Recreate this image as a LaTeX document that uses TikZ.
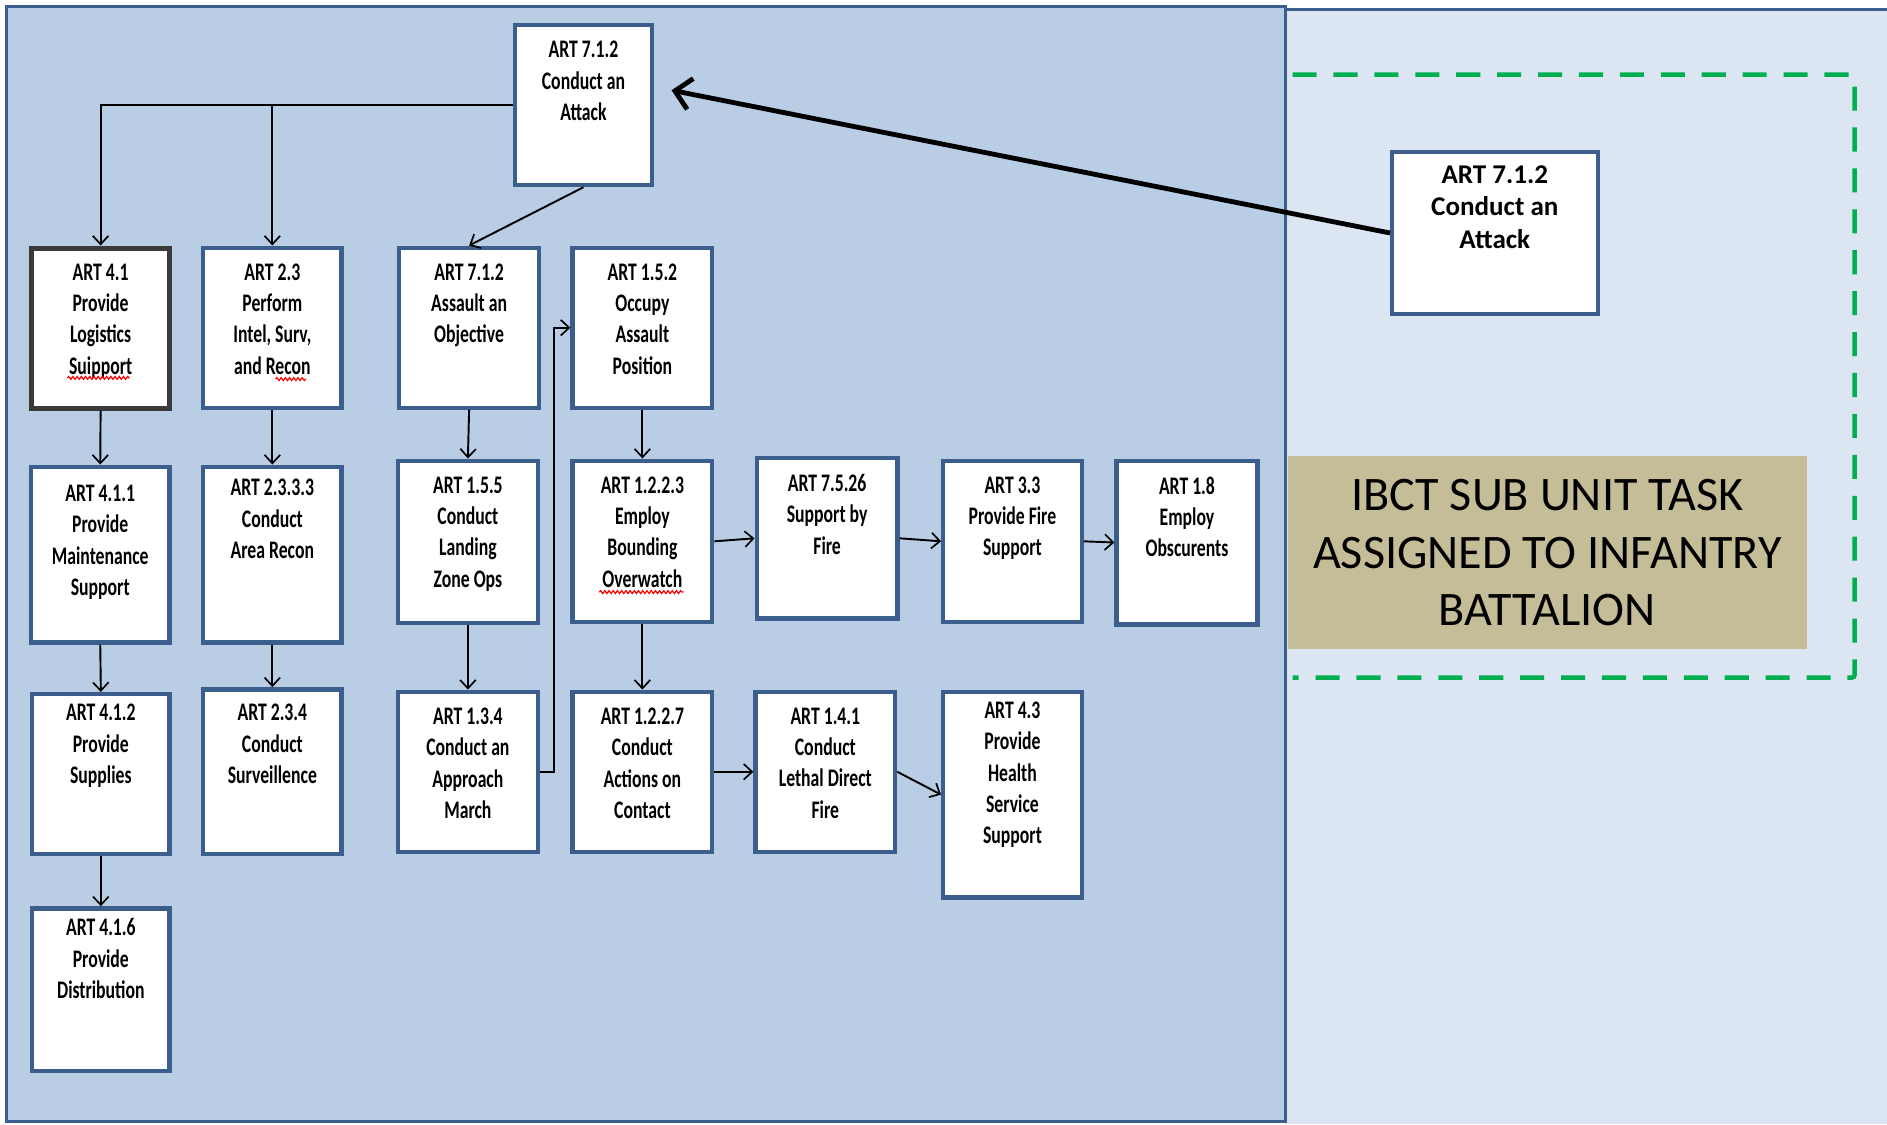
\documentclass[tikz,border=0pt]{standalone}
\usepackage{fontspec}
\setmainfont{Carlito}
\newfontfamily\artfont{Carlito}[FakeStretch=0.7]
\usetikzlibrary{arrows.meta,positioning,decorations.pathmorphing}

\definecolor{panelblue}{HTML}{B9CDE5}
\definecolor{paleblue}{HTML}{DCE6F2}
\definecolor{edgeblue}{HTML}{3B5E8C}
\definecolor{khaki}{HTML}{C4BD97}
\definecolor{dashgreen}{HTML}{00B050}
\definecolor{heavygray}{HTML}{3A3A3A}

% task box: #1 extra style, #2 name, #3 x, #4 y (top left), #5 width, #6 height,
% #7 gap from top edge to first text line, #8 lines of text
\newcommand\taskbox[8][]{%
  \node[task, #1, minimum width=#5pt, minimum height=#6pt] (#2) at (#3,#4) {};
  \node[tasktext, below=#7pt of #2.north] (#2t) {#8};
}

\begin{document}
\begin{tikzpicture}[x=1pt,y=-1pt,
  task/.style={draw=edgeblue, line width=3.6pt, fill=white, inner sep=0pt, anchor=north west},
  tasktext/.style={font=\artfont\bfseries\fontsize{21}{26}\selectfont, align=center, inner sep=0pt},
  conn/.style={line width=1.6pt, -{Straight Barb[length=7pt,width=13pt,line width=1.4pt]}},
  squiggle/.style={red, line width=1pt, decorate, decoration={snake, amplitude=1.2pt, segment length=3.5pt}}
]
\useasboundingbox (0,0) rectangle (1568,934);
\fill[white] (0,0) rectangle (1568,934);

% panels
\fill[paleblue] (1068,8) rectangle (1568,934);
\draw[edgeblue, line width=2.5pt] (1068,8) -- (1568,8);
\draw[edgeblue, line width=2.5pt, fill=panelblue] (5,5) rectangle (1068,932);

% dashed frame and caption
\draw[dashgreen, line width=3.7pt, dash pattern=on 20pt off 14pt, rounded corners=2pt]
  (1074,62) -- (1541,62) -- (1541,563) -- (1074,563);
\node[fill=khaki, minimum width=431pt, minimum height=160pt, anchor=north west, inner sep=0pt,
      align=center, font=\fontsize{40}{48}\selectfont] (caption) at (1070,379)
  {IBCT SUB UNIT TASK\\ASSIGNED TO INFANTRY\\BATTALION};

% assigned task
\node[task, line width=3.2pt, minimum width=171pt, minimum height=134pt] (rbox) at (1155,125) {};
\node[inner sep=0pt, align=center, font=\bfseries\fontsize{22.5}{27}\selectfont,
      below=12.5pt of rbox.north] (rboxt) {ART 7.1.2\\Conduct an\\Attack};

% task boxes
\taskbox{top}{426}{19}{114}{133}{15}{ART 7.1.2\\Conduct an\\Attack}
\taskbox[draw=heavygray, line width=4.2pt]{a41}{24}{204}{115}{133}{15}{ART 4.1\\Provide\\Logistics\\Suipport}
\taskbox{a23}{167}{204}{115}{133}{15}{ART 2.3\\Perform\\Intel, Surv,\\and Recon}
\taskbox{a712b}{330}{204}{116}{133}{15}{ART 7.1.2\\Assault an\\Objective}
\taskbox{a152}{474}{204}{116}{133}{15}{ART 1.5.2\\Occupy\\Assault\\Position}
\taskbox{a411}{24}{386}{115}{146}{17}{ART 4.1.1\\Provide\\Maintenance\\Support}
\taskbox{a2333}{167}{386}{115}{146}{12}{ART 2.3.3.3\\Conduct\\Area Recon}
\taskbox{a155}{329}{381}{116}{135}{15}{ART 1.5.5\\Conduct\\Landing\\Zone Ops}
\taskbox{a1223}{474}{381}{116}{134}{15}{ART 1.2.2.3\\Employ\\Bounding\\Overwatch}
\taskbox{a7526}{627}{379}{117}{133}{15}{ART 7.5.26\\Support by\\Fire}
\taskbox{a33}{782}{381}{115}{134}{15}{ART 3.3\\Provide Fire\\Support}
\taskbox{a18}{926}{381}{117}{136}{15}{ART 1.8\\Employ\\Obscurents}
\taskbox{a412}{25}{575}{114}{133}{10}{ART 4.1.2\\Provide\\Supplies}
\taskbox{a234}{167}{571}{115}{137}{14}{ART 2.3.4\\Conduct\\Surveillence}
\taskbox{a134}{329}{573}{116}{133}{15}{ART 1.3.4\\Conduct an\\Approach\\March}
\taskbox{a1227}{474}{573}{116}{133}{15}{ART 1.2.2.7\\Conduct\\Actions on\\Contact}
\taskbox{a141}{626}{573}{116}{133}{15}{ART 1.4.1\\Conduct\\Lethal Direct\\Fire}
\taskbox{a43}{782}{573}{115}{171}{10}{ART 4.3\\Provide\\Health\\Service\\Support}
\taskbox{a416}{25}{753}{114}{135}{10}{ART 4.1.6\\Provide\\Distribution}

% spelling marks
\draw[squiggle] (56,314) -- (108,314);
\draw[squiggle] (229,315) -- (254,315);
\draw[squiggle] (498,492) -- (568,492);

% connectors
\draw[conn] (top.west) -| (a41.north);
\draw[conn] (top.west -| a23.north) -- (a23.north);
\draw[conn] (top.south) -- (a712b.north);
\draw[conn] (a41.south) -- (a411.north);
\draw[conn] (a411.south) -- (a412.north);
\draw[conn] (a412.south) -- (a416.north);
\draw[conn] (a23.south) -- (a2333.north);
\draw[conn] (a2333.south) -- (a234.north);
\draw[conn] (a712b.south) -- (a155.north);
\draw[conn] (a155.south) -- (a134.north);
\coordinate (jog) at (460,0);
\draw[conn] (a134.east) -- (a134.east -| jog) -- (a152.west -| jog) -- (a152.west);
\draw[conn] (a152.south) -- (a1223.north);
\draw[conn] (a1223.south) -- (a1227.north);
\draw[conn] (a1223.east) -- (a7526.west);
\draw[conn] (a7526.east) -- (a33.west);
\draw[conn] (a33.east) -- (a18.west);
\draw[conn] (a1227.east) -- (a141.west);
\draw[conn] (a141.east) -- (a43.west);

% assignment arrow
\coordinate (tip) at (558,75);
\draw[line width=4pt, -{Straight Barb[length=13pt,width=26pt,line width=4pt]}] (rbox.west) -- (tip);
\end{tikzpicture}
\end{document}
